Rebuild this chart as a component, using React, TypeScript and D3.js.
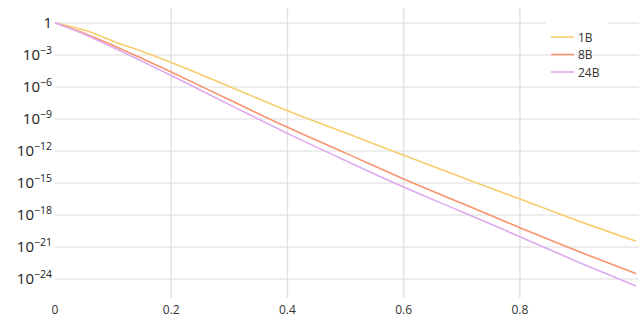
import { useEffect, useRef } from "react";
import * as d3 from "d3";

// x positions of the samples
const xs = [0, 0.025, 0.05, 0.1, 0.15, 0.2, 0.3, 0.4, 0.5, 0.6, 0.7, 0.8, 0.9, 1.0];

// log10 of each series value
const logs1B = [0, -0.3, -0.65, -1.7, -2.68, -3.7, -5.95, -8.22, -10.3, -12.39, -14.45, -16.5, -18.55, -20.46];
const logs8B = [0, -0.45, -0.95, -2.1, -3.33, -4.6, -7.2, -9.78, -12.2, -14.62, -16.9, -19.19, -21.4, -23.5];
const logs24B = [0, -0.5, -1.05, -2.3, -3.6, -4.92, -7.65, -10.35, -12.9, -15.38, -17.7, -20.03, -22.4, -24.66];

const seriesNames = ["1B", "8B", "24B"];
const seriesColors = ["#f8cd6e", "#f8946c", "#dcaaf0"];

const xTicks = [0, 0.2, 0.4, 0.6, 0.8];
const yTickExps = [0, -3, -6, -9, -12, -15, -18, -21, -24];

export default function App() {
  const svgRef = useRef<SVGSVGElement>(null);

  useEffect(() => {
    if (!svgRef.current) return;
    const svg = d3.select(svgRef.current);
    const width = 639;
    const height = 322;
    const font = "'Open Sans', sans-serif";

    svg.selectAll("*").remove();
    svg.attr("width", width).attr("height", height);

    const x = d3.scaleLinear().domain([0, 1.005]).range([55, 639]);
    const y = d3
      .scaleLog()
      .domain([Math.pow(10, 1.406), Math.pow(10, -25.78)])
      .range([8, 298]);

    // Horizontal grid
    svg
      .append("g")
      .selectAll("line")
      .data(yTickExps)
      .join("line")
      .attr("x1", x(0))
      .attr("x2", width)
      .attr("y1", (e) => y(Math.pow(10, e)))
      .attr("y2", (e) => y(Math.pow(10, e)))
      .attr("stroke", "#dcdcdc")
      .attr("stroke-width", 1);

    // Vertical grid
    svg
      .append("g")
      .selectAll("line")
      .data(xTicks.filter((t) => t > 0))
      .join("line")
      .attr("x1", (t) => x(t))
      .attr("x2", (t) => x(t))
      .attr("y1", 8)
      .attr("y2", 298)
      .attr("stroke", "#e2e2e2")
      .attr("stroke-width", 1.5);

    // Y labels
    const yl = svg
      .append("g")
      .attr("font-family", font)
      .attr("fill", "#222");
    yTickExps.forEach((e) => {
      const yy = y(Math.pow(10, e));
      const t = yl
        .append("text")
        .attr("x", 52)
        .attr("y", yy + 5)
        .attr("text-anchor", "end")
        .attr("font-size", 15);
      if (e === 0) {
        t.text("1");
      } else {
        t.append("tspan").text("10");
        t.append("tspan")
          .attr("dy", -6)
          .attr("font-size", 10.5)
          .text("\u2212" + Math.abs(e));
      }
    });

    // X labels
    svg
      .append("g")
      .selectAll("text")
      .data(xTicks)
      .join("text")
      .attr("x", (t) => x(t))
      .attr("y", 314)
      .attr("text-anchor", "middle")
      .attr("font-family", font)
      .attr("font-size", 12)
      .attr("fill", "#333")
      .text((t) => (t === 0 ? "0" : String(t)));

    // Lines
    const allLogs = [logs1B, logs8B, logs24B];
    const line = d3
      .line<number>()
      .x((_, i) => x(xs[i]))
      .y((v) => y(Math.pow(10, v)))
      .curve(d3.curveMonotoneX);

    allLogs.forEach((logs, i) => {
      svg
        .append("path")
        .datum(logs)
        .attr("d", line)
        .attr("fill", "none")
        .attr("stroke", seriesColors[i])
        .attr("stroke-width", 1.6);
    });

    // Legend
    svg
      .append("rect")
      .attr("x", 546)
      .attr("y", 20)
      .attr("width", 62)
      .attr("height", 8)
      .attr("fill", "white");

    const legend = svg.append("g").attr("transform", "translate(551,37)");
    seriesNames.forEach((name, i) => {
      const g = legend.append("g").attr("transform", `translate(0,${i * 17.5})`);
      g.append("line")
        .attr("x1", 0)
        .attr("x2", 23)
        .attr("stroke", seriesColors[i])
        .attr("stroke-width", 1.6);
      g.append("text")
        .attr("x", 27)
        .attr("y", 4.5)
        .attr("font-family", font)
        .attr("font-size", 12)
        .attr("fill", "#333")
        .text(name);
    });
  }, []);

  return (
    <div style={{ position: "absolute", left: 0, top: 0 }}>
      <svg ref={svgRef}></svg>
    </div>
  );
}
